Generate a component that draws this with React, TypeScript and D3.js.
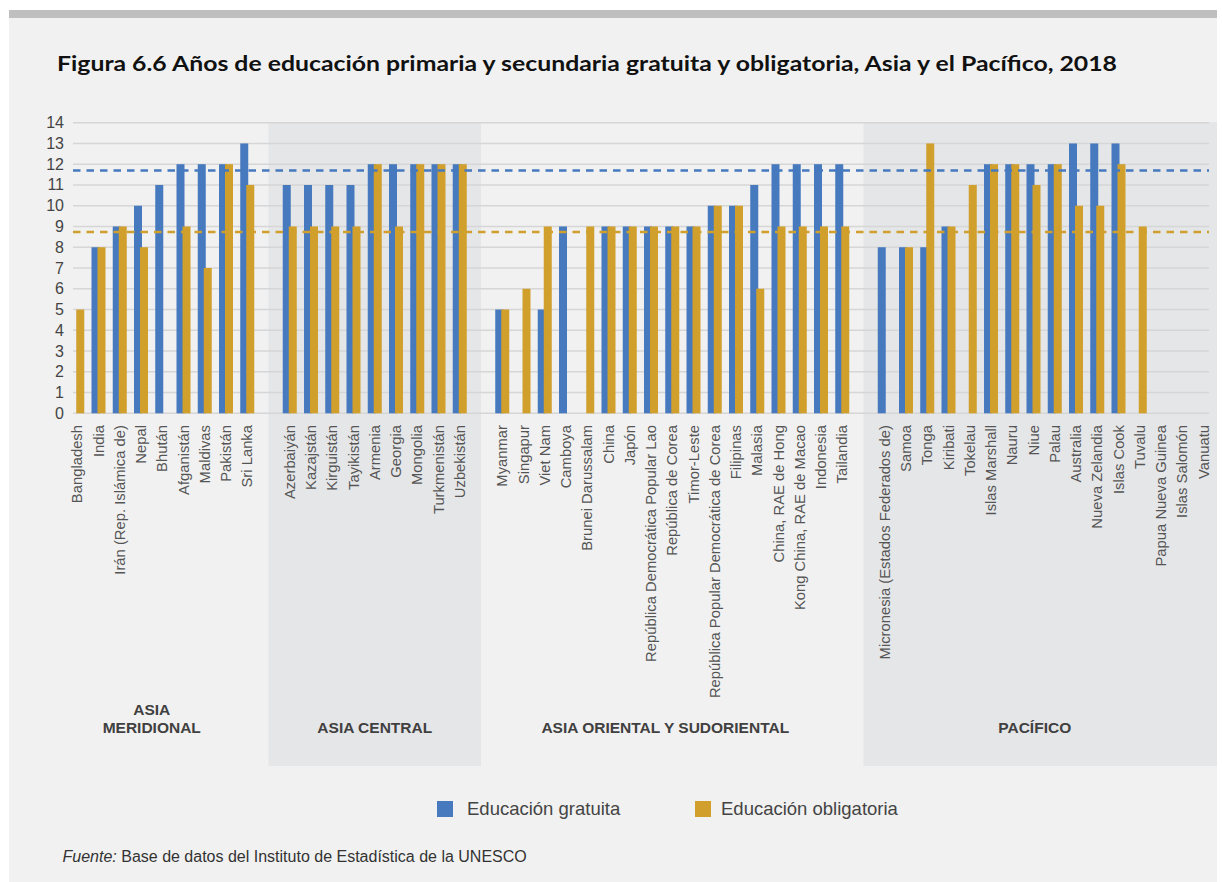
import React from "react";
import * as d3 from "d3";

const groupLabels = [["ASIA", "MERIDIONAL"], ["ASIA CENTRAL"], ["ASIA ORIENTAL Y SUDORIENTAL"], ["PACÍFICO"]];

const meridional = ["Bangladesh", "India", "Irán (Rep. Islámica de)", "Nepal", "Bhután", "Afganistán", "Maldivas", "Pakistán", "Sri Lanka"];
const meridionalFree = [null, 8, 9, 10, 11, 12, 12, 12, 13];
const meridionalComp = [5, 8, 9, 8, null, 9, 7, 12, 11];

const central = ["Azerbaiyán", "Kazajstán", "Kirguistán", "Tayikistán", "Armenia", "Georgia", "Mongolia", "Turkmenistán", "Uzbekistán"];
const centralFree = [11, 11, 11, 11, 12, 12, 12, 12, 12];
const centralComp = [9, 9, 9, 9, 12, 9, 12, 12, 12];

const oriental = ["Myanmar", "Singapur", "Viet Nam", "Camboya", "Brunei Darussalam", "China", "Japón", "República Democrática Popular Lao", "República de Corea", "Timor-Leste", "República Popular Democrática de Corea", "Filipinas", "Malasia", "China, RAE de Hong", "Kong China, RAE de Macao", "Indonesia", "Tailandia"];
const orientalFree = [5, null, 5, 9, null, 9, 9, 9, 9, 9, 10, 10, 11, 12, 12, 12, 12];
const orientalComp = [5, 6, 9, null, 9, 9, 9, 9, 9, 9, 10, 10, 6, 9, 9, 9, 9];

const pacifico = ["Micronesia (Estados Federados de)", "Samoa", "Tonga", "Kiribati", "Tokelau", "Islas Marshall", "Nauru", "Niue", "Palau", "Australia", "Nueva Zelandia", "Islas Cook", "Tuvalu", "Papua Nueva Guinea", "Islas Salomón", "Vanuatu"];
const pacificoFree = [8, 8, 8, 9, null, 12, 12, 12, 12, 13, 13, 13, null, null, null, null];
const pacificoComp = [null, 8, 13, 9, 11, 12, 12, 11, 12, 10, 10, 12, 9, null, null, null];

const averageFree = 11.7;
const averageComp = 8.73;
const yTicks = [0, 1, 2, 3, 4, 5, 6, 7, 8, 9, 10, 11, 12, 13, 14];

const seriesNames = ["Educación gratuita", "Educación obligatoria"];
const title = "Figura 6.6  Años de educación primaria y secundaria gratuita y obligatoria, Asia y el Pacífico, 2018";

const BLUE = "#4679be";
const GOLD = "#d09f2c";

export default function App() {
  const groups = [
    { names: meridional, free: meridionalFree, comp: meridionalComp },
    { names: central, free: centralFree, comp: centralComp },
    { names: oriental, free: orientalFree, comp: orientalComp },
    { names: pacifico, free: pacificoFree, comp: pacificoComp },
  ];

  type Row = { key: string; name: string; free: number | null; comp: number | null; group: number };
  const rows: Row[] = [];
  const gapKeys: string[] = [];
  groups.forEach((g, gi) => {
    if (gi > 0) {
      const k = "gap" + gi;
      gapKeys.push(k);
      rows.push({ key: k, name: "", free: null, comp: null, group: -1 });
    }
    g.names.forEach((n, i) => rows.push({ key: n + gi, name: n, free: g.free[i], comp: g.comp[i], group: gi }));
  });

  const step = 21.25;
  const x0 = 66.625;
  const x = d3.scaleBand<string>().domain(rows.map((r) => r.key)).range([x0, x0 + step * rows.length]).padding(0);
  const y = d3.scaleLinear().domain([0, 14]).range([413.3, 122.7]);
  const cx = (k: string) => (x(k) as number) + x.bandwidth() / 2;

  const gridL = 73;
  const gridR = 1209;
  const barW = 8;

  const labelLeft = [35, cx(gapKeys[0]), cx(gapKeys[1]), cx(gapKeys[2])];
  const labelRight = [cx(gapKeys[0]), cx(gapKeys[1]), cx(gapKeys[2]) - 14, 1206];
  const shadeBounds = [35, cx(gapKeys[0]), cx(gapKeys[1]), cx(gapKeys[2]), 1217];

  return (
    <svg width={1222} height={882} style={{ position: "absolute", left: 0, top: 0 }} fontFamily="'Liberation Sans', Arial, sans-serif">
      <rect x={0} y={0} width={1222} height={882} fill="#ffffff" />
      <rect x={9} y={10} width={1208} height={872} fill="#f1f1f1" />
      <rect x={9} y={10} width={1208} height={8} fill="#bfbfbf" />

      {[1, 3].map((gi) => (
        <rect key={"sh" + gi} x={shadeBounds[gi]} y={122} width={shadeBounds[gi + 1] - shadeBounds[gi]} height={644} fill="#e5e6e8" />
      ))}

      <text x={57} y={71} fontFamily="Lato, 'Open Sans', sans-serif" fontWeight={700} fontSize={21} fill="#111" textLength={1060} lengthAdjust="spacingAndGlyphs">
        {title}
      </text>

      {yTicks.map((t) => (
        <line key={"g" + t} x1={gridL} x2={gridR} y1={y(t)} y2={y(t)} stroke="#d6d6d6" strokeWidth={1.5} />
      ))}
      {yTicks.map((t) => (
        <text key={"yt" + t} x={64} y={y(t) + 5.5} textAnchor="end" fontSize={16} fill="#444">
          {t}
        </text>
      ))}

      {rows.map((r) =>
        r.free != null ? (
          <rect key={"bf" + r.key} x={cx(r.key) - 7} y={y(r.free)} width={barW} height={y(0) - y(r.free)} fill={BLUE} />
        ) : null
      )}
      {rows.map((r) =>
        r.comp != null ? (
          <rect key={"bc" + r.key} x={cx(r.key) - 1} y={y(r.comp)} width={barW} height={y(0) - y(r.comp)} fill={GOLD} />
        ) : null
      )}

      <line x1={gridL} x2={gridR} y1={y(averageFree)} y2={y(averageFree)} stroke={BLUE} strokeWidth={2.5} strokeDasharray="7.5 6" />
      <line x1={gridL} x2={gridR} y1={y(averageComp)} y2={y(averageComp)} stroke={GOLD} strokeWidth={2.5} strokeDasharray="7.5 6" />

      {rows
        .filter((r) => r.name)
        .map((r) => (
          <text key={"xl" + r.key} transform={`translate(${cx(r.key) + 5},425) rotate(-90)`} textAnchor="end" fontSize={14.8} fill="#555">
            {r.name}
          </text>
        ))}

      {groupLabels.map((lines, gi) => {
        const mx = (labelLeft[gi] + labelRight[gi]) / 2;
        return (
          <text key={"gl" + gi} x={mx} textAnchor="middle" fontSize={15.5} fontWeight={700} fill="#404040">
            {lines.map((ln, li) => (
              <tspan key={li} x={mx} y={733 - (lines.length - 1 - li) * 18}>
                {ln}
              </tspan>
            ))}
          </text>
        );
      })}

      <rect x={437} y={801} width={16} height={16} fill={BLUE} />
      <text x={467} y={814.5} fontSize={18.5} fill="#444">{seriesNames[0]}</text>
      <rect x={695} y={801} width={16} height={16} fill={GOLD} />
      <text x={721} y={814.5} fontSize={18.5} fill="#444">{seriesNames[1]}</text>

      <text x={62.5} y={862} fontSize={16} fill="#333">
        <tspan fontStyle="italic">Fuente:</tspan> Base de datos del Instituto de Estadística de la UNESCO
      </text>
    </svg>
  );
}
